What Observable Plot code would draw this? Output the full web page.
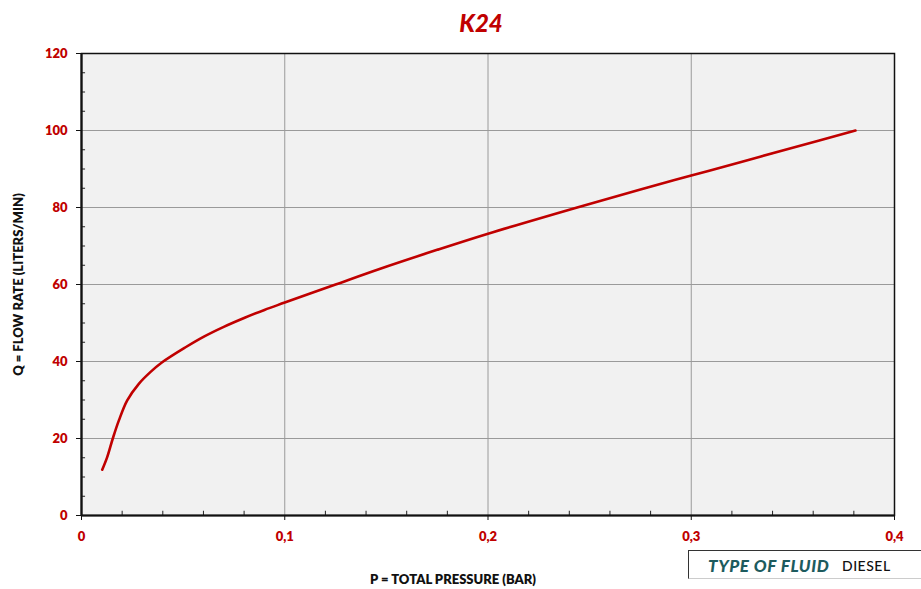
<!DOCTYPE html>
<html>
<head>
<meta charset="utf-8">
<script src="https://cdn.jsdelivr.net/npm/d3@7"></script>
<script src="https://cdn.jsdelivr.net/npm/@observablehq/plot@0.6"></script>
<style>
  html, body { margin: 0; padding: 0; background: #fff; }
  #wrap { position: relative; width: 921px; height: 589px; overflow: hidden; font-family: Lato, "Open Sans", sans-serif; }
  #title { position: absolute; left: 0; width: 962px; top: 8px; text-align: center; color: #c00000; font-weight: 900; font-style: italic; font-size: 24px; }
  #xlabel { position: absolute; left: 353px; width: 200px; top: 571px; text-align: center; font-weight: 800; font-size: 13px; color: #111; white-space: nowrap; }
  #fluid { position: absolute; left: 688px; top: 550px; width: 260px; height: 29px; border: 1px solid #333; border-right: none; border-bottom: 1px solid #ccc; box-sizing: border-box; background: #fff; }
  #fluid span.k { position: absolute; left: 19px; top: 4px; color: #1d5b5e; font-weight: 900; font-style: italic; font-size: 17px; letter-spacing: 0.6px; white-space: nowrap; }
  #fluid span.v { position: absolute; left: 153px; top: 6px; color: #111; font-size: 14px; font-weight: 500; letter-spacing: 0.5px; }
  #chart { position: absolute; left: 0; top: 0; }
</style>
</head>
<body>
<div id="wrap">
  <div id="chart"></div>
  <div id="title">K24</div>
  <div id="xlabel">P = TOTAL PRESSURE (BAR)</div>
  <div id="fluid"><span class="k">TYPE OF FLUID</span><span class="v">DIESEL</span></div>
</div>
<script>
const pressure = [0.0102, 0.0126, 0.0154, 0.0184, 0.0225, 0.0282, 0.034, 0.0397, 0.0512, 0.06, 0.07, 0.08, 0.09, 0.1, 0.125, 0.147, 0.175, 0.2, 0.243, 0.275, 0.3, 0.325, 0.349, 0.3808];
const flow     = [11.9, 15.1, 20, 24.7, 29.9, 34.2, 37.3, 39.8, 43.7, 46.4, 49, 51.3, 53.4, 55.3, 60, 64.1, 69, 73.2, 79.9, 84.7, 88.3, 91.9, 95.4, 100];
const xTicks = [0, 0.1, 0.2, 0.3, 0.4];
const xTickLabels = ["0", "0,1", "0,2", "0,3", "0,4"];
const xMinor = [0.02, 0.04, 0.06, 0.08, 0.12, 0.14, 0.16, 0.18, 0.22, 0.24, 0.26, 0.28, 0.32, 0.34, 0.36, 0.38];
const yTicks = [0, 20, 40, 60, 80, 100, 120];
const yMinor = [5, 10, 15, 25, 30, 35, 45, 50, 55, 65, 70, 75, 85, 90, 95, 105, 110, 115];

const data = pressure.map((p, i) => ({p, q: flow[i]}));
const red = "#c00000";

const chart = Plot.plot({
  width: 921,
  height: 589,
  marginLeft: 81,
  marginRight: 27,
  marginTop: 53,
  marginBottom: 74,
  style: {fontFamily: "Lato, sans-serif", background: "transparent"},
  x: {domain: [0, 0.4]},
  y: {domain: [0, 120]},
  marks: [
    Plot.frame({fill: "#f1f1f1", stroke: null}),
    Plot.gridX([0.1, 0.2, 0.3], {stroke: "#9a9a9a", strokeOpacity: 1, strokeWidth: 1}),
    Plot.gridY([20, 40, 60, 80, 100], {stroke: "#9a9a9a", strokeOpacity: 1, strokeWidth: 1}),
    Plot.ruleX(xMinor, {x: d => d, y1: 0, y2: 1.1, stroke: "#222", strokeWidth: 1}),
    Plot.ruleY(yMinor, {y: d => d, x1: 0, x2: 0.002, stroke: "#222", strokeWidth: 1}),
    Plot.frame({stroke: "#111", strokeWidth: 1.5}),
    Plot.ruleX([0], {stroke: "#111", strokeWidth: 2.2}),
    Plot.ruleY([0], {stroke: "#111", strokeWidth: 2.2}),
    Plot.axisX(xTicks, {
      tickFormat: d => xTickLabels[xTicks.indexOf(d)],
      tickSize: 5, tickPadding: 11, stroke: "#111",
      fill: red, fontWeight: 800, fontSize: 13, label: null
    }),
    Plot.axisY(yTicks, {
      tickSize: 5, tickPadding: 9, stroke: "#111",
      fill: red, fontWeight: 800, fontSize: 13,
      label: "Q = FLOW RATE (LITERS/MIN)", labelAnchor: "center", labelArrow: "none", labelOffset: 68
    }),
    Plot.line(data, {x: "p", y: "q", stroke: red, strokeWidth: 2.6, curve: "catmull-rom", strokeLinecap: "round"})
  ]
});
chart.querySelectorAll("g[aria-label='y-axis label'] text").forEach(t => { t.setAttribute("fill", "#111"); t.setAttribute("font-weight", "800"); t.setAttribute("font-size", "13"); });
document.getElementById("chart").appendChild(chart);
</script>
</body>
</html>
